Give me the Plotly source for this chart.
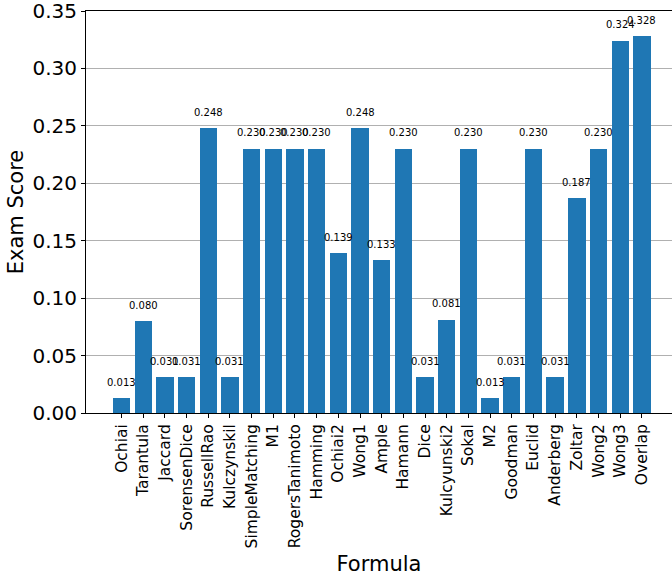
import plotly.graph_objects as go

formulas = ["Ochiai", "Tarantula", "Jaccard", "SorensenDice", "RussellRao", "Kulczynskil",
            "SimpleMatching", "M1", "RogersTanimoto", "Hamming", "Ochiai2", "Wong1", "Ample",
            "Hamann", "Dice", "Kulcyunski2", "Sokal", "M2", "Goodman", "Euclid", "Anderberg",
            "Zoltar", "Wong2", "Wong3", "Overlap"]
scores = [0.013, 0.080, 0.031, 0.031, 0.248, 0.031, 0.230, 0.230, 0.230, 0.230, 0.139, 0.248,
          0.133, 0.230, 0.031, 0.081, 0.230, 0.013, 0.031, 0.230, 0.031, 0.187, 0.230, 0.324, 0.328]
yticks = [0.00, 0.05, 0.10, 0.15, 0.20, 0.25, 0.30, 0.35]

xs = list(range(len(formulas)))
font = "DejaVu Sans"

fig = go.Figure()
fig.add_trace(go.Bar(x=xs, y=scores, width=0.8, marker=dict(color="#1f77b4", line=dict(width=0)),
                     hoverinfo="skip"))

for i, v in enumerate(scores):
    fig.add_annotation(x=i, y=v, text=f"{v:.3f}", showarrow=False, yanchor="middle",
                       yshift=16, font=dict(family=font, size=10, color="black"))

fig.update_layout(
    width=672, height=580,
    margin=dict(l=86, r=0, t=11, b=167),
    paper_bgcolor="white", plot_bgcolor="white",
    showlegend=False,
    bargap=0,
    xaxis=dict(
        range=[-1.64, 25.39], tickmode="array", tickvals=xs, ticktext=formulas,
        tickangle=-90, tickfont=dict(family=font, size=15.5, color="black"),
        showline=True, linecolor="black", linewidth=1, mirror=True,
        ticks="outside", ticklen=4, tickcolor="black", showgrid=False, zeroline=False,
        title=dict(text="Formula", font=dict(family=font, size=21, color="black"), standoff=8),
    ),
    yaxis=dict(
        range=[0, 0.35], tickmode="array", tickvals=yticks,
        ticktext=[f"{t:.2f}" for t in yticks],
        tickfont=dict(family=font, size=20, color="black"),
        ticklabeloverflow="allow",
        showline=True, linecolor="black", linewidth=1, mirror=False,
        ticks="outside", ticklen=4, tickcolor="black",
        showgrid=True, gridcolor="#b0b0b0", gridwidth=1, zeroline=False,
        title=dict(text="Exam Score", font=dict(family=font, size=21, color="black"), standoff=3),
    ),
)

fig.write_html("out.html")
